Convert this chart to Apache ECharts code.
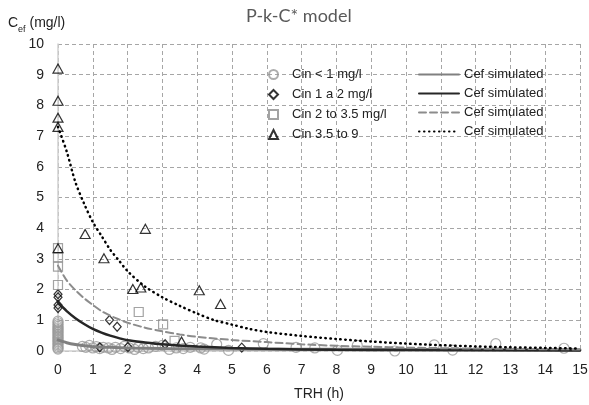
<!DOCTYPE html>
<html>
<head>
<meta charset="utf-8">
<script src="https://cdn.jsdelivr.net/npm/echarts@6/dist/echarts.min.js"></script>
<style>
  html, body { margin: 0; padding: 0; background: #fff; }
  #chart { width: 589px; height: 405px; }
</style>
</head>
<body>
<div id="chart"></div>
<script>
// measured points [TRH (h), Cef (mg/l)]
var cinBelow1 = [
    [0, 0.97], [0, 0.92], [0, 0.86], [0, 0.8], [0, 0.75], [0, 0.7], [0, 0.65], [0, 0.6],
    [0, 0.55], [0, 0.5], [0, 0.45], [0, 0.4], [0, 0.35], [0, 0.3], [0, 0.25], [0, 0.2],
    [0, 0.15], [0, 0.1], [0, 0.06],
    [0.7, 0.15], [0.8, 0.12], [0.9, 0.18], [1.0, 0.1], [1.1, 0.14], [1.2, 0.08], [1.3, 0.12],
    [1.45, 0.1], [1.55, 0.05], [1.65, 0.12], [1.8, 0.08], [1.9, 0.15], [2.05, 0.1], [2.2, 0.05],
    [2.3, 0.12], [2.45, 0.08], [2.6, 0.1], [2.8, 0.15], [3.0, 0.18], [3.2, 0.05], [3.4, 0.1],
    [3.6, 0.08], [3.8, 0.12], [4.1, 0.1], [4.2, 0.06], [4.56, 0.22], [4.9, 0.02], [5.9, 0.24],
    [6.84, 0.12], [7.38, 0.1], [8.03, 0.02], [8.6, 0.18], [9.68, 0.0], [10.81, 0.2],
    [11.34, 0.03], [12.58, 0.24], [14.54, 0.09]
];
var cin1to2 = [
    [0, 1.85], [0, 1.75], [0, 1.5], [0, 1.4], [1.2, 0.12], [1.48, 1.01], [1.7, 0.79],
    [2.01, 0.13], [3.08, 0.22], [5.28, 0.11]
];
var cin2to35 = [
    [0, 3.35], [0, 3.05], [0, 2.75], [0, 2.15], [2.32, 1.27], [3.02, 0.87], [3.35, 0.33]
];
var cin35to9 = [
    [0, 9.2], [0, 8.15], [0, 7.6], [0, 7.3], [0, 3.35], [0.78, 3.81], [1.32, 3.02],
    [2.15, 2.02], [2.38, 2.07], [2.51, 3.98], [3.55, 0.31], [4.06, 1.98], [4.67, 1.53]
];

// simulated curves
var simBelow1 = [
    [0, 0.36], [0.25, 0.27], [0.5, 0.21], [0.75, 0.17], [1, 0.14], [1.5, 0.12], [2, 0.1],
    [3, 0.08], [4, 0.07], [6, 0.06], [10, 0.05], [15, 0.04]
];
var sim1to2 = [
    [0, 1.58], [0.25, 1.3], [0.5, 1.07], [0.75, 0.88], [1, 0.72], [1.25, 0.6], [1.5, 0.5],
    [1.75, 0.42], [2, 0.35], [2.5, 0.28], [3, 0.22], [3.5, 0.18], [4, 0.15], [5, 0.1],
    [6, 0.07], [8, 0.04], [10, 0.03], [15, 0.02]
];
var sim2to35 = [
    [0, 2.78], [0.25, 2.3], [0.5, 1.98], [0.75, 1.72], [1, 1.5], [1.25, 1.3], [1.5, 1.15],
    [1.75, 1.03], [2, 0.92], [2.5, 0.76], [3, 0.64], [3.5, 0.54], [4, 0.46], [5, 0.36],
    [6, 0.29], [7, 0.22], [8, 0.17], [9, 0.14], [10, 0.11], [12, 0.08], [15, 0.05]
];
var sim35to9 = [
    [0, 7.3], [0.25, 6.5], [0.5, 5.5], [0.75, 4.8], [1, 4.2], [1.25, 3.75], [1.5, 3.3],
    [1.75, 2.95], [2, 2.6], [2.5, 2.1], [3, 1.75], [3.5, 1.47], [4, 1.22], [4.5, 1.0],
    [5, 0.86], [5.5, 0.72], [6, 0.62], [7, 0.49], [8, 0.39], [9, 0.31], [10, 0.24],
    [11, 0.19], [12, 0.15], [13, 0.12], [14, 0.1], [15, 0.08]
];

var scatterNames = ['Cin < 1 mg/l', 'Cin 1 a 2 mg/l', 'Cin 2 to 3.5 mg/l', 'Cin 3.5 to 9'];
var simNames = ['sim1', 'sim2', 'sim3', 'sim4'];
var simLabel = 'Cef simulated';

var font = 'Liberation Sans';
var textColor = '#222';
var gridColor = '#a6a6a6';

var myChart = echarts.init(document.getElementById('chart'));

function scatter(name, data, symbol, size, color) {
    return {
        name: name,
        type: 'scatter',
        data: data,
        symbol: symbol,
        symbolSize: size,
        itemStyle: {
            color: 'rgba(255,255,255,0)',
            borderColor: color,
            borderWidth: 1.2
        },
        z: 2
    };
}

function simLine(name, data, color, width, type) {
    return {
        name: name,
        type: 'line',
        data: data,
        smooth: 0.3,
        symbol: 'none',
        lineStyle: {
            color: color,
            width: width,
            type: type,
            cap: 'round'
        },
        itemStyle: { color: color },
        z: 3
    };
}

var option = {
    animation: false,
    backgroundColor: '#fff',
    title: {
        text: 'P-k-C* model',
        left: 241,
        top: 2,
        textStyle: {
            fontFamily: 'Lato',
            fontSize: 18,
            fontWeight: 'normal',
            color: '#595959'
        }
    },
    legend: [{
        data: scatterNames,
        orient: 'vertical',
        left: 263,
        top: 63,
        itemWidth: 9,
        itemHeight: 9,
        itemGap: 7,
        textStyle: { fontFamily: font, fontSize: 13, color: textColor, padding: [0, 0, 0, 9] }
    }, {
        data: simNames,
        orient: 'vertical',
        left: 413,
        top: 63,
        itemWidth: 40,
        itemHeight: 14,
        itemGap: 6,
        itemStyle: { color: 'rgba(0,0,0,0)', borderWidth: 0 },
        formatter: function () { return simLabel; },
        textStyle: { fontFamily: font, fontSize: 13, color: textColor }
    }],
    grid: {
        left: 58,
        right: 9,
        top: 44,
        bottom: 54,
        outerBoundsMode: 'none'
    },
    xAxis: {
        type: 'value',
        min: 0,
        max: 15,
        interval: 1,
        name: 'TRH (h)',
        nameLocation: 'middle',
        nameGap: 36,
        nameTextStyle: { fontFamily: font, fontSize: 14, color: textColor },
        axisLine: { lineStyle: { color: '#d0d0d0', width: 1.5 } },
        axisTick: { show: false },
        axisLabel: { fontFamily: font, fontSize: 14, color: textColor, margin: 12 },
        splitLine: { lineStyle: { color: gridColor, type: [4, 3], width: 1 } }
    },
    yAxis: {
        type: 'value',
        min: 0,
        max: 10,
        interval: 1,
        name: '{c|C}{s|ef}{c| (mg/l)}',
        nameLocation: 'end',
        nameGap: 14,
        nameTextStyle: {
            align: 'left',
            padding: [0, 0, 0, -50],
            rich: {
                c: { fontFamily: font, fontSize: 14, color: textColor },
                s: { fontFamily: font, fontSize: 9, color: textColor, verticalAlign: 'bottom', padding: [0, 0, -4, 0] }
            }
        },
        axisLine: { show: true, lineStyle: { color: '#d0d0d0', width: 1.5 } },
        axisTick: { show: false },
        axisLabel: { fontFamily: font, fontSize: 14, color: textColor, margin: 14 },
        splitLine: { lineStyle: { color: gridColor, type: [4, 3], width: 1 } }
    },
    series: [
        scatter(scatterNames[0], cinBelow1, 'circle', 10, '#999999'),
        scatter(scatterNames[1], cin1to2, 'diamond', [8, 9], '#000'),
        scatter(scatterNames[2], cin2to35, 'rect', 9, '#8c8c8c'),
        scatter(scatterNames[3], cin35to9, 'triangle', [10, 9], '#000'),
        simLine(simNames[0], simBelow1, '#808080', 3, 'solid'),
        simLine(simNames[1], sim1to2, '#262626', 2.5, 'solid'),
        simLine(simNames[2], sim2to35, '#8c8c8c', 2, [7, 4]),
        simLine(simNames[3], sim35to9, '#000', 2.5, [0.5, 4.5])
    ]
};
myChart.setOption(option);
</script>
</body>
</html>
